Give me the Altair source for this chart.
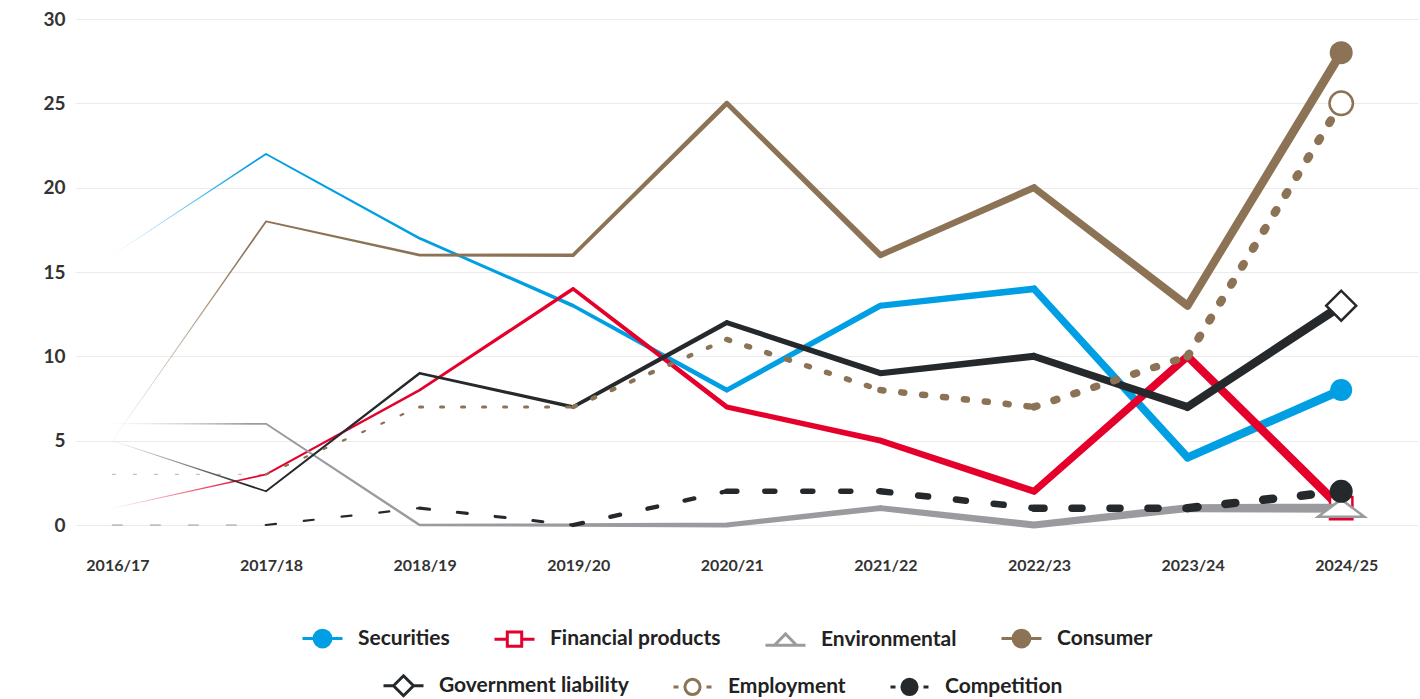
import altair as alt
import pandas as pd

# ---------------- data ----------------
YEARS = ["2016/17", "2017/18", "2018/19", "2019/20", "2020/21",
         "2021/22", "2022/23", "2023/24", "2024/25"]
SERIES = ["Securities", "Financial products", "Environmental", "Consumer",
          "Government liability", "Employment", "Competition"]
SECURITIES = [16, 22, 17, 13, 8, 13, 14, 4, 8]
FINANCIAL = [1, 3, 8, 14, 7, 5, 2, 10, 1]
ENVIRONMENTAL = [6, 6, 0, 0, 0, 1, 0, 1, 1]
CONSUMER = [5, 18, 16, 16, 25, 16, 20, 13, 28]
GOVERNMENT = [5, 2, 9, 7, 12, 9, 10, 7, 13]
EMPLOYMENT = [3, 3, 7, 7, 11, 8, 7, 10, 25]
COMPETITION = [0, 0, 1, 0, 2, 2, 1, 1, 2]
VALUES = dict(zip(SERIES, [SECURITIES, FINANCIAL, ENVIRONMENTAL, CONSUMER,
                           GOVERNMENT, EMPLOYMENT, COMPETITION]))

# ---------------- styles ----------------
COLORS = {
    "Securities": "#009fe3",
    "Financial products": "#e4002b",
    "Environmental": "#9b9a9e",
    "Consumer": "#8c7355",
    "Government liability": "#25292c",
    "Employment": "#8c7355",
    "Competition": "#25292c",
}
RGB0 = {
    "Securities": "rgba(0,159,227,0.05)",
    "Financial products": "rgba(228,0,43,0.05)",
    "Environmental": "rgba(155,154,158,0.05)",
    "Consumer": "rgba(140,115,85,0.05)",
    "Government liability": "rgba(37,41,44,0.05)",
}
FILLS = {
    "Securities": "#009fe3",
    "Financial products": "#ffffff",
    "Environmental": "#ffffff",
    "Consumer": "#8c7355",
    "Government liability": "#ffffff",
    "Employment": "#ffffff",
    "Competition": "#25292c",
}
WIDTHS = [0.5, 1.8, 2.6, 3.6, 5.0, 6.0, 7.0, 8.0, 9.0]  # line width growing over time
TRIANGLE = "M-1,0.375L1,0.375L0,-0.375Z"
MARKERS = {
    "Securities": dict(shape="circle", size=484, filled=True),
    "Financial products": dict(shape="square", size=500, filled=False, fill="white", strokeWidth=2.5),
    "Environmental": dict(shape=TRIANGLE, size=2160, filled=False, fill="white", strokeWidth=2.5),
    "Consumer": dict(shape="circle", size=529, filled=True),
    "Government liability": dict(shape="diamond", size=900, filled=False, fill="white", strokeWidth=2.5),
    "Employment": dict(shape="circle", size=550, filled=False, fill="white", strokeWidth=2.5),
    "Competition": dict(shape="circle", size=529, filled=True),
}
LEGEND_PATHS = {
    "Securities": "M-1,0H-0.42M0.42,0H1M-0.42,0A0.42,0.42 0 1,0 0.42,0A0.42,0.42 0 1,0 -0.42,0Z",
    "Financial products": "M-1,0H-0.36M0.36,0H1M-0.36,-0.36H0.36V0.36H-0.36Z",
    "Environmental": "M-1,0.24H-0.55M0.55,0.24H1M-0.55,0.24H0.55L0,-0.32Z",
    "Consumer": "M-1,0H-0.42M0.42,0H1M-0.42,0A0.42,0.42 0 1,0 0.42,0A0.42,0.42 0 1,0 -0.42,0Z",
    "Government liability": "M-1,0H-0.5M0.5,0H1M-0.5,0L0,-0.5L0.5,0L0,0.5Z",
    "Employment": "M-0.95,0H-0.7M0.7,0H0.95M-0.38,0A0.38,0.38 0 1,0 0.38,0A0.38,0.38 0 1,0 -0.38,0Z",
    "Competition": "M-0.95,0H-0.7M0.7,0H0.95M-0.38,0A0.38,0.38 0 1,0 0.38,0A0.38,0.38 0 1,0 -0.38,0Z",
}
FONT = "Lato"

label_expr = "[" + ",".join("'%s'" % y for y in YEARS) + "][datum.value]"

X = alt.X("idx:Q",
          scale=alt.Scale(domain=[-0.2435, 8.5], nice=False, zero=False),
          axis=alt.Axis(values=list(range(len(YEARS))), labelExpr=label_expr, title=None,
                        grid=False, ticks=False, domain=False, labelFont=FONT,
                        labelFontSize=16, labelFontWeight="bold", labelColor="#333333",
                        labelPadding=32, labelOffset=5, labelFlush=False, labelOverlap=False))
Y = alt.Y("val:Q",
          scale=alt.Scale(domain=[0, 30], nice=False, zero=False),
          axis=alt.Axis(values=[0, 5, 10, 15, 20, 25, 30], title=None, grid=True,
                        gridColor="#ebebeb", gridWidth=1, ticks=False, domain=False,
                        labelFont=FONT, labelFontSize=19, labelFontWeight="bold",
                        labelColor="#333333", labelPadding=10))


def point_table(s):
    v = VALUES[s]
    return pd.DataFrame({"idx": list(range(len(v))), "val": v, "w": WIDTHS, "series": s})


def segment_table(s):
    v = VALUES[s]
    rows = []
    for i in range(len(v) - 1):
        sw = (WIDTHS[i] + WIDTHS[i + 1]) / 2
        op = 0.45 if i == 0 else 1.0
        rows.append({"seg": i, "idx": i, "val": v[i], "sw": sw, "op": op})
        rows.append({"seg": i, "idx": i + 1, "val": v[i + 1], "sw": sw, "op": op})
    return pd.DataFrame(rows)


layers = []
DASHES = {"Employment": [3, 18], "Competition": [10, 28]}
for s in SERIES:
    col = COLORS[s]
    if s in DASHES:
        line = alt.Chart(segment_table(s)).mark_line(
            color=col, strokeCap="round", strokeJoin="round", strokeDash=DASHES[s]
        ).encode(
            x=X, y=Y, detail="seg:N", order="idx:Q",
            strokeWidth=alt.StrokeWidth("sw:Q", scale=None, legend=None),
            opacity=alt.Opacity("op:Q", scale=None, legend=None),
        )
    else:
        grad = alt.Gradient(gradient="linear", x1=0, x2=1, y1=0, y2=0, stops=[
            alt.GradientStop(color=RGB0[s], offset=0),
            alt.GradientStop(color=col, offset=0.11),
            alt.GradientStop(color=col, offset=1),
        ])
        line = alt.Chart(point_table(s)).mark_trail(color=grad).encode(
            x=X, y=Y, order="idx:Q",
            size=alt.Size("w:Q", scale=None, legend=None),
        )
    layers.append(line)
    m = MARKERS[s]
    kw = dict(shape=m["shape"], size=m["size"], opacity=1)
    if m["filled"]:
        kw.update(filled=True, color=col)
    else:
        kw.update(filled=False, fill=m["fill"], stroke=col, strokeWidth=m["strokeWidth"])
    marker = alt.Chart(point_table(s)).transform_filter(
        alt.datum.idx == len(YEARS) - 1
    ).mark_point(**kw).encode(x=X, y=Y)
    layers.append(marker)


def legend_layer(names, lx, ly):
    df = pd.DataFrame({"series": names, "idx": [0] * len(names), "val": [-50] * len(names)})
    leg = alt.Legend(orient="none", legendX=lx, legendY=ly, direction="horizontal",
                     title=None, symbolSize=1600, symbolStrokeWidth=3,
                     labelFont=FONT, labelFontSize=21, labelFontWeight="bold",
                     labelColor="#222222", labelOffset=14, columnPadding=38,
                     padding=0, symbolOpacity=1, labelLimit=400)
    return alt.Chart(df).mark_point(filled=False, opacity=1, clip=True, strokeWidth=3).encode(
        x=X, y=Y,
        color=alt.Color("series:N", scale=alt.Scale(domain=names, range=[COLORS[n] for n in names]), legend=leg),
        fill=alt.Fill("series:N", scale=alt.Scale(domain=names, range=[FILLS[n] for n in names]), legend=leg),
        shape=alt.Shape("series:N", scale=alt.Scale(domain=names, range=[LEGEND_PATHS[n] for n in names]), legend=leg),
    )


layers.append(legend_layer(SERIES[:4], 226, 598))
layers.append(legend_layer(SERIES[4:], 307, 645))

chart = alt.layer(*layers).resolve_scale(
    color="independent", fill="independent", shape="independent"
).properties(
    width=1343, height=506,
    autosize=alt.AutoSizeParams(type="none"),
    padding={"left": 75, "top": 19, "right": 2, "bottom": 174},
    background="white",
).configure_view(stroke=None)

chart.save("out.html", embed_options={"renderer": "svg", "actions": False})
